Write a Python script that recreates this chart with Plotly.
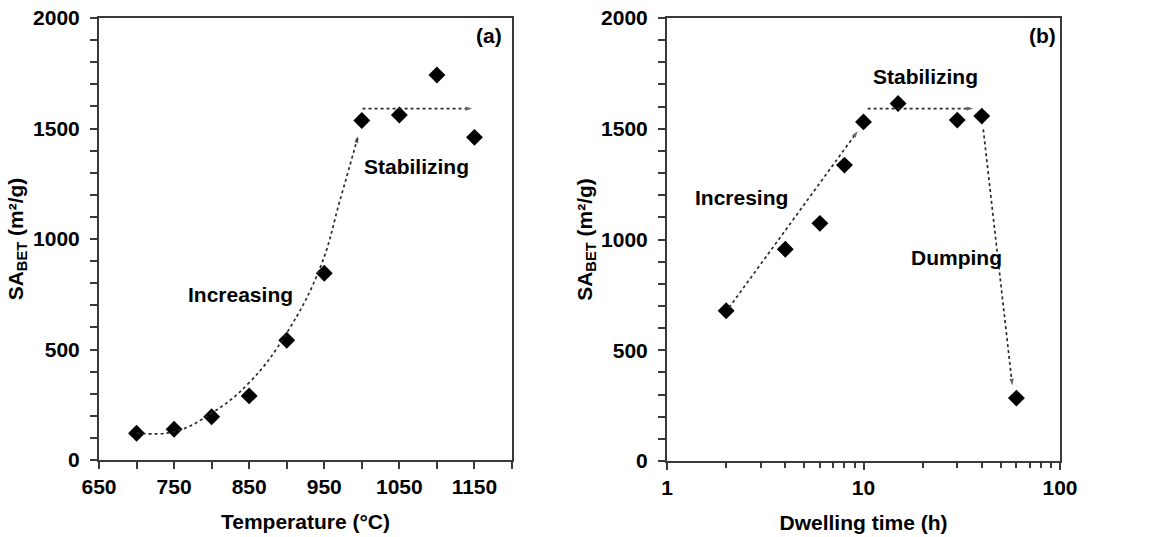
import numpy as np
import plotly.graph_objects as go

# ---------------- data ----------------
temperature = [700, 750, 800, 850, 900, 950, 1000, 1050, 1100, 1150]
sa_temp = [121, 139, 196, 290, 542, 845, 1536, 1561, 1742, 1460]

dwell_time = [2, 4, 6, 8, 10, 15, 30, 40, 60]
sa_time = [678, 956, 1073, 1336, 1531, 1614, 1539, 1557, 284]

# guide curve (a): increasing trend
guide_a_x = [700, 750, 800, 850, 900, 945, 971, 995]
guide_a_y = [122, 128, 212, 350, 575, 875, 1176, 1465]
# stabilizing arrow (a)
stab_a_x = [1001, 1147]
stab_a_y = [1590, 1590]

# arrows (b)
inc_b_x = [2.07, 9.34]
inc_b_y = [693, 1489]
stab_b_x = [10.5, 36.2]
stab_b_y = [1591, 1591]
dump_b_x = [40.7, 57.2]
dump_b_y = [1497, 341]

W, H = 1149, 537
FONT = "Liberation Sans, Arial, sans-serif"
AXC = "#3a3a3a"
LINEC = "#2a2a2a"

fig = go.Figure()

marker = dict(symbol="diamond", size=13, color="black")

fig.add_trace(go.Scatter(x=temperature, y=sa_temp, mode="markers", marker=marker,
                         xaxis="x", yaxis="y", showlegend=False))
fig.add_trace(go.Scatter(x=dwell_time, y=sa_time, mode="markers", marker=marker,
                         xaxis="x2", yaxis="y2", showlegend=False))


def arrow_trace(xs, ys, xa, ya, shape="linear"):
    n = len(xs)
    return go.Scatter(
        x=xs, y=ys, mode="lines+markers", xaxis=xa, yaxis=ya, showlegend=False,
        line=dict(color=LINEC, width=1.7, dash="dot", shape=shape, smoothing=1.2),
        marker=dict(symbol=["circle"] * (n - 1) + ["arrow"], size=[0] * (n - 1) + [7],
                    color=LINEC, angleref="previous", line=dict(width=0)),
        hoverinfo="skip")


fig.add_trace(arrow_trace(guide_a_x, guide_a_y, "x", "y", shape="spline"))
fig.add_trace(arrow_trace(stab_a_x, stab_a_y, "x", "y"))
fig.add_trace(arrow_trace(inc_b_x, inc_b_y, "x2", "y2"))
fig.add_trace(arrow_trace(stab_b_x, stab_b_y, "x2", "y2"))
fig.add_trace(arrow_trace(dump_b_x, dump_b_y, "x2", "y2"))

tickfont = dict(family=FONT, size=21, color="black", weight="bold")
titlefont = dict(family=FONT, size=21, color="black", weight="bold")

common_axis = dict(showline=True, linecolor=AXC, linewidth=2, mirror=True,
                   showgrid=False, zeroline=False, ticks="outside", ticklen=7,
                   tickwidth=1.5, tickcolor=AXC, tickfont=tickfont, automargin=False)

ytitle = "SA<sub>BET</sub> (m²/g)"

fig.update_layout(
    width=W, height=H,
    margin=dict(l=0, r=0, t=0, b=0),
    paper_bgcolor="white", plot_bgcolor="white",
    font=dict(family=FONT, color="black"),
    xaxis=dict(domain=[99 / W, 512 / W], range=[650, 1200], tick0=650, dtick=100,
               tickformat="d",
               minor=dict(ticks="outside", ticklen=7, tickwidth=1.5, tickcolor=AXC, dtick=50, tick0=650),
               title=dict(text="Temperature (°C)", font=titlefont, standoff=17),
               anchor="y", **common_axis),
    yaxis=dict(domain=[1 - 460 / H, 1 - 18 / H], range=[0, 2000], dtick=500,
               ticklabelstandoff=6,
               minor=dict(ticks="outside", ticklen=7, tickwidth=1.5, tickcolor=AXC, dtick=100),
               title=dict(text=ytitle, font=titlefont, standoff=4),
               anchor="x", **common_axis),
    xaxis2=dict(domain=[667 / W, 1060 / W], type="log", range=[0, 2], dtick=1,
                minor=dict(ticks="outside", ticklen=5, tickwidth=1.5, tickcolor=AXC, dtick="D1"),
                title=dict(text="Dwelling time (h)", font=titlefont, standoff=17),
                anchor="y2", **common_axis),
    yaxis2=dict(domain=[1 - 461 / H, 1 - 18 / H], range=[0, 2000], dtick=500,
                ticklabelstandoff=6,
                minor=dict(ticks="outside", ticklen=7, tickwidth=1.5, tickcolor=AXC, dtick=100),
                title=dict(text=ytitle, font=titlefont, standoff=3),
                anchor="x2", **common_axis),
)

afont = dict(family=FONT, size=21, color="black", weight="bold")
annots = [
    dict(x=1073, y=1326, xref="x", yref="y", text="Stabilizing"),
    dict(x=838, y=747, xref="x", yref="y", text="Increasing"),
    dict(x=0.98, y=0.99, xref="x domain", yref="y domain", text="(a)",
         xanchor="right", yanchor="top"),
    dict(x=np.log10(20.6), y=1737, xref="x2", yref="y2", text="Stabilizing"),
    dict(x=np.log10(2.4), y=1189, xref="x2", yref="y2", text="Incresing"),
    dict(x=np.log10(29.7), y=919, xref="x2", yref="y2", text="Dumping"),
    dict(x=0.995, y=0.99, xref="x2 domain", yref="y2 domain", text="(b)",
         xanchor="right", yanchor="top"),
]
for a in annots:
    a.setdefault("xanchor", "center")
    a.setdefault("yanchor", "middle")
    fig.add_annotation(showarrow=False, font=afont, **a)

fig.write_html("out.html")
